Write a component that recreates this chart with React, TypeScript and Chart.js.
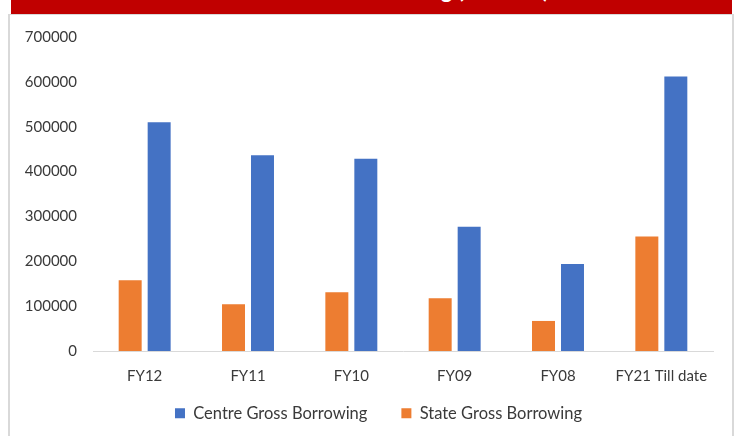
import React, { useEffect, useRef } from "react";
import { Chart, registerables } from "chart.js";

Chart.register(...registerables);

const categories = ["FY12", "FY11", "FY10", "FY09", "FY08", "FY21 Till date"];
const stateGross = [158000, 104000, 131000, 117500, 67000, 255000];
const centreGross = [510000, 436500, 428500, 277000, 194000, 612000];
const yTicks = [0, 100000, 200000, 300000, 400000, 500000, 600000, 700000];
const titleText = "Centre and State Gross Borrowing (Rs crore)";

const legendShift = {
  id: "legendShift",
  afterLayout(chart: any) {
    const lg = chart.legend;
    if (!lg) return;
    const dx = 22;
    const dy = -30;
    lg.left += dx;
    lg.right += dx;
    lg.top += dy;
    lg.bottom += dy;
  },
};

export default function App() {
  const ref = useRef<HTMLCanvasElement | null>(null);

  useEffect(() => {
    if (!ref.current) return;
    const textColor = "#3a3a3a";
    const font = { family: "Lato, 'Open Sans', sans-serif", size: 15 };
    const chart = new Chart(ref.current, {
      type: "bar",
      plugins: [legendShift],
      data: {
        labels: categories,
        datasets: [
          {
            label: "State Gross Borrowing",
            data: stateGross,
            backgroundColor: "#ED7D31",
            categoryPercentage: 0.561,
            barPercentage: 0.793,
          },
          {
            label: "Centre Gross Borrowing",
            data: centreGross,
            backgroundColor: "#4472C4",
            categoryPercentage: 0.561,
            barPercentage: 0.793,
          },
        ],
      },
      options: {
        animation: false,
        responsive: false,
        maintainAspectRatio: false,
        layout: { padding: { left: 0, right: 25, top: 37, bottom: -25.5 } },
        plugins: {
          title: { display: false },
          tooltip: { enabled: false },
          legend: {
            position: "bottom",
            reverse: true,
            labels: {
              boxWidth: 10,
              boxHeight: 10,
              padding: 34,
              color: textColor,
              font: { family: font.family, size: 16.5 },
            },
          },
        },
        scales: {
          x: {
            grid: { display: false, drawTicks: false },
            border: { display: true, color: "#d9d9d9", width: 1 },
            ticks: { color: textColor, font, padding: 16, maxRotation: 0, autoSkip: false },
          },
          y: {
            min: 0,
            max: 700000,
            afterFit: (scale: any) => {
              scale.width = 93;
            },
            afterBuildTicks: (scale: any) => {
              scale.ticks = yTicks.map((v) => ({ value: v }));
            },
            grid: { display: false, drawTicks: false },
            border: { display: false },
            ticks: {
              color: textColor,
              font,
              padding: 16,
              callback: (v: any) => String(v),
            },
          },
        },
      },
    });
    return () => chart.destroy();
  }, []);

  return (
    <div style={{ position: "fixed", left: 0, top: 0, width: 738, height: 436, background: "#fff", overflow: "hidden" }}>
      <div
        style={{
          position: "absolute",
          left: 8,
          top: 14,
          width: 726,
          height: 440,
          border: "1px solid #d9d9d9",
          borderLeftWidth: 2,
          borderRightWidth: 2,
          boxSizing: "border-box",
        }}
      />
      <div
        style={{
          position: "absolute",
          left: 11,
          top: 0,
          width: 721,
          height: 14,
          background: "#C00000",
          overflow: "hidden",
        }}
      >
        <span
          style={{
            position: "absolute",
            right: 183,
            top: -23,
            whiteSpace: "nowrap",
            color: "#fff",
            fontFamily: "Lato, sans-serif",
            fontWeight: 700,
            fontSize: 22,
            lineHeight: "26px",
          }}
        >
          {titleText}
        </span>
      </div>
      <canvas ref={ref} width={738} height={436} style={{ position: "absolute", left: 0, top: 0, width: 738, height: 436 }} />
    </div>
  );
}
